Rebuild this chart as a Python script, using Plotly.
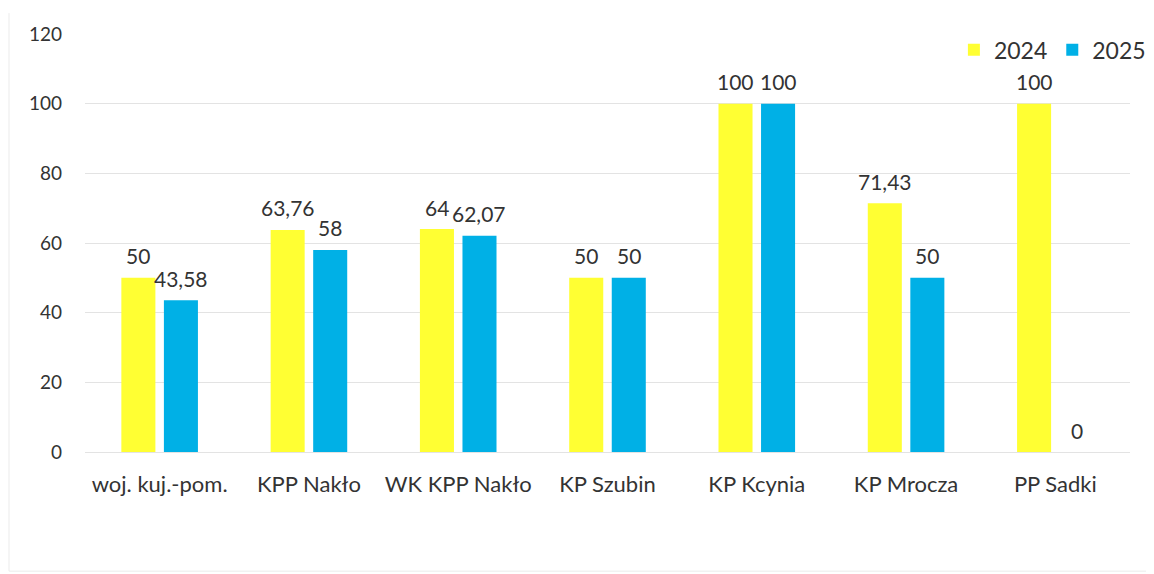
import plotly.graph_objects as go

categories = ["woj. kuj.-pom.", "KPP Nakło", "WK KPP Nakło", "KP Szubin", "KP Kcynia", "KP Mrocza", "PP Sadki"]
values_2024 = [50, 63.76, 64, 50, 100, 71.43, 100]
values_2025 = [43.58, 58, 62.07, 50, 100, 50, 0]
y_ticks = [0, 20, 40, 60, 80, 100, 120]

FONT = "Lato, 'Open Sans', sans-serif"
TXT = "#333333"


def fmt(v):
    return f"{v:g}".replace(".", ",")


fig = go.Figure()
fig.add_trace(go.Bar(
    name="2024", x=categories, y=values_2024,
    marker=dict(color="#FFFF33", line=dict(width=0)),
))
fig.add_trace(go.Bar(
    name="2025", x=categories, y=values_2025,
    marker=dict(color="#00B0E6", line=dict(width=0)),
))

annotations = []
for vals, shift in ((values_2024, -21.25), (values_2025, 21.25)):
    for c, v in zip(categories, vals):
        annotations.append(dict(
            x=c, y=v, xref="x", yref="y", text=fmt(v), showarrow=False,
            xshift=shift, yshift=22, yanchor="middle",
            font=dict(size=21, color=TXT, family=FONT),
        ))

fig.update_layout(
    width=1146, height=566,
    margin=dict(l=77, r=24, t=26, b=122, autoexpand=False),
    paper_bgcolor="white", plot_bgcolor="white",
    barmode="group", bargap=0.43, bargroupgap=0.2,
    font=dict(family=FONT, size=19, color=TXT),
    legend=dict(orientation="h", x=1.02, xanchor="right", y=0.962, yanchor="middle",
                font=dict(size=23, color=TXT), itemwidth=30, bgcolor="rgba(0,0,0,0)",
                traceorder="normal"),
    xaxis=dict(showgrid=False, showline=False, ticks="", tickfont=dict(size=22, color=TXT),
               ticklabelstandoff=17, automargin=False),
    yaxis=dict(range=[0, 120], tickvals=y_ticks, showgrid=True, gridcolor="#E3E3E3",
               gridwidth=1, zeroline=True, zerolinecolor="#E3E3E3", zerolinewidth=1,
               showline=False, ticks="", tickfont=dict(size=19, color=TXT), ticklabelstandoff=22,
               automargin=False),
    annotations=annotations,
    shapes=[
        dict(type="line", xref="paper", yref="paper", x0=-0.0727, x1=-0.0727, y0=-0.285, y1=1.05,
             line=dict(color="#EBEBEB", width=1)),
        dict(type="line", xref="paper", yref="paper", x0=-0.0727, x1=1.025, y0=-0.285, y1=-0.285,
             line=dict(color="#EBEBEB", width=1)),
    ],
)

fig.write_html("out.html")
